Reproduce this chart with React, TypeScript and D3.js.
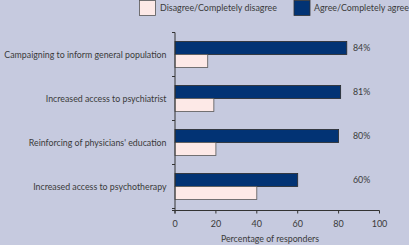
import React from "react";
import * as d3 from "d3";

const categories = [
  "Campaigning to inform general population",
  "Increased access to psychiatrist",
  "Reinforcing of physicians' education",
  "Increased access to psychotherapy",
];
const agree = [84, 81, 80, 60];
const disagree = [16, 19, 20, 40];
const xTicks = [0, 20, 40, 60, 80, 100];
const seriesNames = ["Disagree/Completely disagree", "Agree/Completely agree"];
const axisTitle = "Percentage of responders";

const W = 409;
const H = 245;
const BG = "#c6cadf";
const NAVY = "#023374";
const PINK = "#fde9e7";
const TEXT = "#3a3a3a";
const FONT = "Lato, sans-serif";
const FS = 8.8;

export default function App() {
  const x = d3.scaleLinear().domain([0, 100]).range([175, 379.5]);
  const y = d3.scaleBand<string>().domain(categories).range([32.5, 208.5]);
  const inner = d3
    .scaleBand<string>()
    .domain(["agree", "disagree"])
    .range([0, y.bandwidth()])
    .paddingInner(0)
    .paddingOuter(0.69);
  const x0 = x(0);
  const axisY = 210.5;
  const boundaries = categories.map((c) => y(c) as number).concat([y.range()[1]]);

  return (
    <svg
      width={W}
      height={H}
      style={{ position: "absolute", left: 0, top: 0, display: "block" }}
      fontFamily={FONT}
    >
      <rect x={0} y={0} width={W} height={H} fill={BG} />
      {/* legend */}
      <rect x={139.5} y={0.5} width={16} height={15} fill={PINK} stroke="#555" strokeWidth={0.8} />
      <text x={160} y={7.5} dy="0.35em" fontSize={8.9} fill={TEXT}>
        {seriesNames[0]}
      </text>
      <rect x={294} y={0.5} width={16} height={15} fill={NAVY} stroke="#333" strokeWidth={0.8} />
      <text x={314} y={7.5} dy="0.35em" fontSize={8.9} fill={TEXT}>
        {seriesNames[1]}
      </text>

      {/* bars */}
      {categories.map((c, i) => {
        const by = y(c) as number;
        return (
          <g key={c}>
            <rect
              x={x0}
              y={by + (inner("agree") as number)}
              width={x(agree[i]) - x0}
              height={inner.bandwidth()}
              fill={NAVY}
              stroke="#2a2a2a"
              strokeWidth={0.8}
            />
            <rect
              x={x0}
              y={by + (inner("disagree") as number)}
              width={x(disagree[i]) - x0}
              height={inner.bandwidth()}
              fill={PINK}
              stroke="#555"
              strokeWidth={0.8}
            />
            <text
              x={353}
              y={by + (inner("agree") as number) + inner.bandwidth() / 2}
              dy="0.35em"
              fontSize={8.8}
              fill={TEXT}
            >
              {agree[i]}%
            </text>
            <text
              x={166.5}
              y={by + y.bandwidth() / 2}
              dy="0.35em"
              textAnchor="end"
              fontSize={FS}
              fill={TEXT}
            >
              {c}
            </text>
          </g>
        );
      })}

      {/* y axis */}
      <line x1={x0} x2={x0} y1={32.5} y2={213.5} stroke="#333" strokeWidth={1} />
      {boundaries.map((b, i) => (
        <line key={i} x1={x0 - 3} x2={x0} y1={b} y2={b} stroke="#333" strokeWidth={1} />
      ))}

      {/* x axis */}
      <line x1={x0 - 3} x2={x(100)} y1={axisY} y2={axisY} stroke="#333" strokeWidth={1} />
      {xTicks.map((t) => (
        <g key={t}>
          <line x1={x(t)} x2={x(t)} y1={axisY} y2={axisY + 3} stroke="#333" strokeWidth={1} />
          <text x={x(t)} y={224} dy="0.35em" textAnchor="middle" fontSize={9} fill={TEXT}>
            {t}
          </text>
        </g>
      ))}
      <text x={270} y={239} dy="0.35em" textAnchor="middle" fontSize={FS} fill={TEXT}>
        {axisTitle}
      </text>
    </svg>
  );
}
